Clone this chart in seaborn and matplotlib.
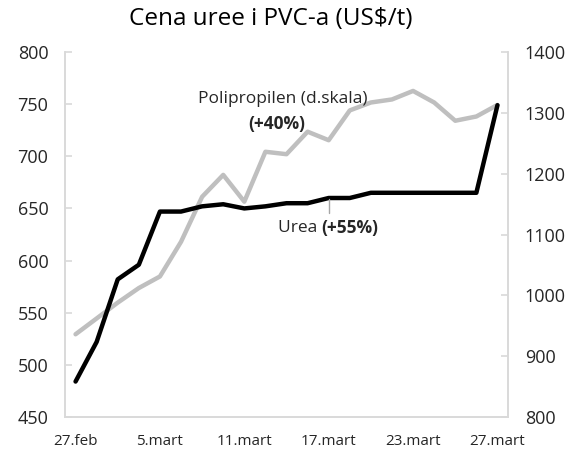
import pandas as pd
import seaborn as sns
import matplotlib.pyplot as plt

sns.set_theme(style="white")
plt.rcParams["font.family"] = ["Open Sans", "DejaVu Sans"]

# daily categories (21 trading days), labels every 4th point
day_labels = ["27.feb", "5.mart", "11.mart", "17.mart", "23.mart", "27.mart"]
label_idx = [0, 4, 8, 12, 16, 20]

urea = [484, 522, 582, 596, 647, 647, 652, 654, 650, 652, 655,
        655, 660, 660, 665, 665, 665, 665, 665, 665, 749]
polypropylene = [936, 962, 988, 1012, 1031, 1088, 1162, 1198, 1154, 1236,
                 1232, 1269, 1255, 1304, 1317, 1322, 1336, 1317, 1287,
                 1294, 1313]

df = pd.DataFrame({
    "idx": range(len(urea)),
    "urea": urea,
    "pp": polypropylene,
})

spine_col = "#d9d9d9"
text_col = "#262626"

fig = plt.figure(figsize=(5.77, 4.5), dpi=100)
ax = fig.add_axes([65 / 577, 33 / 450, 443 / 577, 365 / 450])
ax2 = ax.twinx()

sns.lineplot(data=df, x="idx", y="pp", ax=ax2, color="#bfbfbf",
             linewidth=3.2)
sns.lineplot(data=df, x="idx", y="urea", ax=ax, color="black",
             linewidth=3.2)
ax.set_zorder(ax2.get_zorder() + 1)
ax.patch.set_visible(False)

ax.set_xlim(-0.5, len(urea) - 0.5)
ax.set_ylim(450, 800)
ax2.set_ylim(800, 1400)
ax.set_yticks(range(450, 801, 50))
ax2.set_yticks(range(800, 1401, 100))

ax.set_xticks(label_idx)
ax.set_xticklabels(day_labels)
ax.set_xticks([i - 0.5 for i in range(len(urea) + 1)], minor=True)

for a in (ax, ax2):
    a.set_xlabel("")
    a.set_ylabel("")
    a.spines["top"].set_visible(False)
    for s in ("left", "right", "bottom"):
        a.spines[s].set_color(spine_col)
        a.spines[s].set_linewidth(1.2)
    a.tick_params(axis="y", direction="in", length=5, width=1.2,
                  color=spine_col, labelsize=13, labelcolor=text_col, pad=12)

ax.tick_params(axis="x", which="major", length=0, labelsize=11,
               labelcolor=text_col, pad=12)
ax.tick_params(axis="x", which="minor", direction="in", length=3,
               width=1.2, color=spine_col)
ax.tick_params(axis="y", left=True)
ax2.tick_params(axis="y", right=True)

ax.text(9.8, 755, "Polipropilen (d.skala)", ha="center", va="center",
        fontsize=12.5, color=text_col)
ax.text(9.55, 731, "(+40%)", ha="center", va="center", fontsize=12.5,
        fontweight="bold", color=text_col)
ax.plot([12, 12], [646, 659], color="#a6a6a6", linewidth=1)
ax.text(11.65, 631, "Urea ", ha="right", va="center", fontsize=12.5,
        color=text_col)
ax.text(11.65, 631, "(+55%)", ha="left", va="center", fontsize=12.5,
        fontweight="bold", color=text_col)

fig.suptitle("Cena uree i PVC-a (US$/t)", x=0.47, y=0.985, va="top",
             fontsize=17.5, color="black")

fig.savefig("out.png", dpi=100)
